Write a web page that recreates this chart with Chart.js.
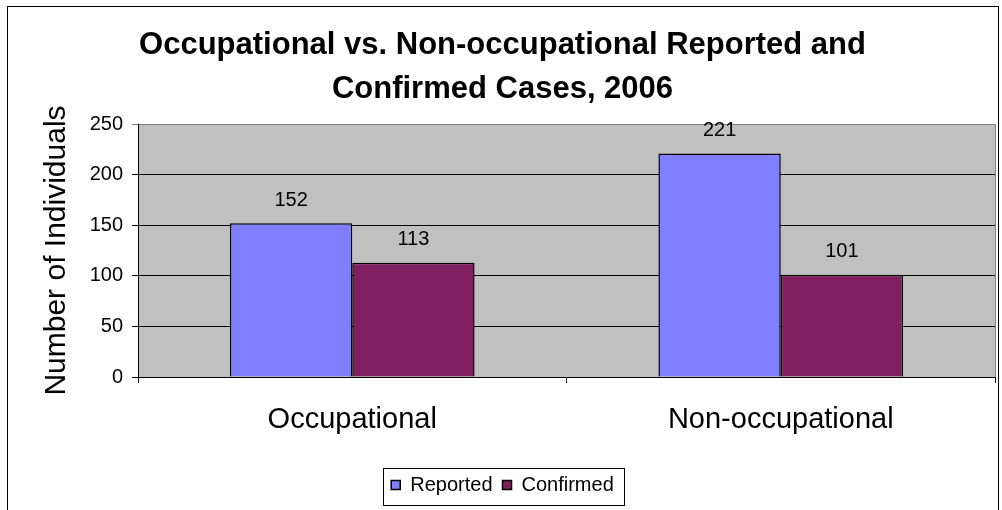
<!DOCTYPE html>
<html>
<head>
<meta charset="utf-8">
<title>Occupational vs. Non-occupational Reported and Confirmed Cases, 2006</title>
<script src="https://cdn.jsdelivr.net/npm/chart.js@4/dist/chart.umd.min.js"></script>
<style>
    html, body { margin: 0; padding: 0; background: #fff; }
    #wrap { width: 1002px; height: 510px; position: relative; }
</style>
</head>
<body>
<div id="wrap"><canvas id="casesChart"></canvas></div>
<script>
// ---- Data ----
const categories = ['Occupational', 'Non-occupational'];
const reported = [152, 221];
const confirmed = [113, 101];
const yTicks = [0, 50, 100, 150, 200, 250];

const FONT = "'Liberation Sans', Arial, sans-serif";
Chart.defaults.font.family = FONT;
Chart.defaults.color = '#000';

// grey plot area + outer chart frame + legend frame
const excelFrame = {
    id: 'excelFrame',
    beforeDraw(chart) {
        const { ctx, chartArea: a } = chart;
        ctx.save();
        ctx.fillStyle = '#fff';
        ctx.fillRect(0, 0, chart.width, chart.height);
        ctx.strokeStyle = '#000';
        ctx.lineWidth = 1;
        ctx.strokeRect(7.5, 6.5, 991, 520);
        ctx.fillStyle = '#c0c0c0';
        ctx.fillRect(a.left, a.top, a.right - a.left, a.bottom - a.top);
        ctx.strokeStyle = '#808080';
        ctx.strokeRect(Math.round(a.left) + 0.5, Math.round(a.top) + 0.5,
            Math.round(a.right - a.left), Math.round(a.bottom - a.top));
        ctx.restore();
    },
    afterDraw(chart) {
        const boxes = chart.legend.legendHitBoxes;
        if (!boxes || !boxes.length) return;
        const left = Math.min(...boxes.map(b => b.left));
        const right = Math.max(...boxes.map(b => b.left + b.width));
        const top = boxes[0].top;
        const ctx = chart.ctx;
        ctx.save();
        ctx.strokeStyle = '#000';
        ctx.lineWidth = 1;
        ctx.strokeRect(Math.round(left - 8) + 0.5, Math.round(top - 7) + 0.5,
            Math.round(right - left + 18), 37);
        ctx.restore();
    }
};

// value labels above the bars
const valueLabels = {
    id: 'valueLabels',
    afterDatasetsDraw(chart) {
        const ctx = chart.ctx;
        ctx.save();
        ctx.font = '20px ' + FONT;
        ctx.fillStyle = '#000';
        ctx.textAlign = 'center';
        ctx.textBaseline = 'middle';
        chart.data.datasets.forEach((ds, i) => {
            chart.getDatasetMeta(i).data.forEach((bar, j) => {
                ctx.fillText(String(ds.data[j]), bar.x, bar.y - 23);
            });
        });
        ctx.restore();
    }
};

new Chart(document.getElementById('casesChart'), {
    type: 'bar',
    data: {
        labels: categories,
        datasets: [
            {
                label: 'Reported',
                data: reported,
                backgroundColor: '#8080ff',
                borderColor: '#000',
                borderWidth: 1.5,
                categoryPercentage: 0.571,
                barPercentage: 1,
            },
            {
                label: 'Confirmed',
                data: confirmed,
                backgroundColor: '#802060',
                borderColor: '#000',
                borderWidth: 1.5,
                categoryPercentage: 0.571,
                barPercentage: 1,
            },
        ],
    },
    options: {
        responsive: true,
        maintainAspectRatio: false,
        animation: false,
        layout: { padding: { left: 10, right: 7, top: 0, bottom: 5 } },
        plugins: {
            title: {
                display: true,
                text: ['Occupational vs. Non-occupational Reported and', 'Confirmed Cases, 2006'],
                font: { size: 31, weight: 'bold', lineHeight: 1.42 },
                color: '#000',
                padding: { top: 23, bottom: 13 },
            },
            legend: {
                position: 'bottom',
                labels: { boxWidth: 9, boxHeight: 9, padding: 10, font: { size: 20 }, color: '#000' },
            },
            tooltip: { enabled: false },
        },
        scales: {
            y: {
                min: 0,
                max: 250,
                afterBuildTicks: s => { s.ticks = yTicks.map(v => ({ value: v })); },
                afterFit: s => { s.width = 128; },
                ticks: { font: { size: 20 }, padding: 9, color: '#000' },
                grid: {
                    color: ctx => (ctx.tick && ctx.tick.value === 250 ? '#808080' : '#000'),
                    tickLength: 6,
                    lineWidth: 1,
                },
                border: { color: '#000' },
                title: {
                    display: true,
                    text: 'Number of Individuals',
                    font: { size: 30 },
                    color: '#000',
                    padding: { top: 29, bottom: 0 },
                },
            },
            x: {
                afterFit: s => { s.height = 88; },
                ticks: { font: { size: 29 }, padding: 20, color: '#000' },
                grid: { offset: true, drawOnChartArea: false, tickLength: 6, color: '#000' },
                border: { color: '#000' },
            },
        },
    },
    plugins: [excelFrame, valueLabels],
});
</script>
</body>
</html>
